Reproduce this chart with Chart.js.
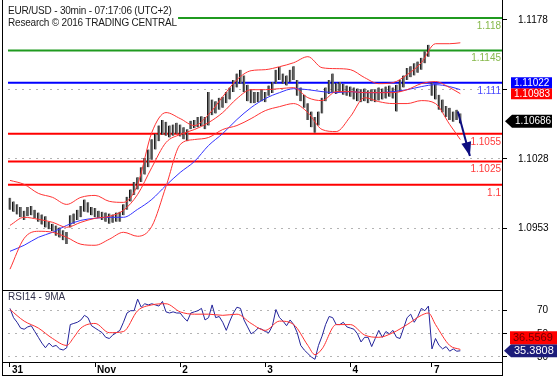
<!DOCTYPE html>
<html>
<head>
<meta charset="utf-8">
<script src="https://cdn.jsdelivr.net/npm/chart.js@4.4.1/dist/chart.umd.min.js"></script>
<style>
  html, body { margin:0; padding:0; background:#fff; }
  #wrap { position:relative; width:558px; height:379px; background:#fff; overflow:hidden; font-family:"Liberation Sans", Arial, sans-serif; }
  canvas { position:absolute; left:0; }
  .ln { position:absolute; background:#000; }
  .txt { position:absolute; white-space:nowrap; font-size:10px; line-height:12px; }
</style>
</head>
<body>
<div id="wrap">
  <canvas id="main" width="558" height="290" style="top:0;width:558px;height:290px"></canvas>
  <canvas id="rsi" width="558" height="89" style="top:290px;width:558px;height:89px"></canvas>
  <div class="ln" style="left:2px;top:0;width:1px;height:376px"></div>
  <div class="ln" style="left:502px;top:0;width:1px;height:376px"></div>
  <div class="ln" style="left:2px;top:375px;width:501px;height:1px"></div>
  <div class="ln" style="left:2px;top:290px;width:501px;height:1px"></div>
  <div class="ln" style="left:2px;top:362px;width:501px;height:1px"></div>
  <div class="txt" style="left:8px;top:5px;color:#1a1a1a;letter-spacing:-0.2px">EUR/USD - 30min - 07:17:06 (UTC+2)</div>
  <div class="txt" style="left:8px;top:17px;color:#1a1a1a;letter-spacing:-0.2px">Research © 2016 TRADING CENTRAL</div>
  <div class="txt" style="left:8px;top:291px;color:#33334d">RSI14 - 9MA</div>
</div>
<script>
// ---------------- DATA ----------------
// hourly bars (index = hours since 31 Oct 00:00)
const barHighs = [1.0986,1.0982,1.0979,1.0976,1.0972,1.0976,1.0977,1.0973,1.0970,1.0968,
1.0966,1.0960,1.0958,1.0956,1.0954,1.0951,1.0949,1.0967,1.0969,1.0973,
1.0977,1.0984,1.0981,1.0976,1.0975,1.0972,1.0971,1.0970,1.0969,1.0968,
1.0970,1.0971,1.0979,1.0987,1.0995,1.1003,1.1008,1.1019,1.1029,1.1038,
1.1049,1.1055,1.1064,1.1070,1.1068,1.1064,1.1065,1.1067,1.1065,1.1062,
1.1060,1.1069,1.1070,1.1073,1.1074,1.1073,1.1100,1.1092,1.1090,1.1094,
1.1095,1.1100,1.1105,1.1113,1.1120,1.1124,1.1118,1.1108,1.1103,1.1100,
1.1100,1.1103,1.1100,1.1107,1.1111,1.1124,1.1127,1.1120,1.1118,1.1124,
1.1128,1.1113,1.1105,1.1097,1.1088,1.1079,1.1073,1.1079,1.1094,1.1105,
1.1113,1.1120,1.1110,1.1111,1.1109,1.1107,1.1106,1.1105,1.1104,1.1103,
1.1104,1.1102,1.1103,1.1103,1.1105,1.1104,1.1106,1.1107,1.1105,1.1108,
1.1113,1.1118,1.1126,1.1128,1.1131,1.1133,1.1137,1.1144,1.1151,1.1110,
1.1109,1.1097,1.1092,1.1085,1.1083,1.1079,1.1081,1.1077];
const barLows = [1.0973,1.0971,1.0968,1.0965,1.0962,1.0966,1.0967,1.0964,1.0960,1.0957,
1.0954,1.0952,1.0950,1.0945,1.0943,1.0940,1.0936,1.0954,1.0958,1.0962,
1.0965,1.0971,1.0970,1.0967,1.0965,1.0964,1.0962,1.0960,1.0958,1.0959,
1.0960,1.0960,1.0967,1.0973,1.0982,1.0989,1.0995,1.1003,1.1011,1.1019,
1.1027,1.1038,1.1047,1.1054,1.1053,1.1051,1.1053,1.1055,1.1052,1.1049,
1.1047,1.1060,1.1061,1.1062,1.1063,1.1060,1.1064,1.1075,1.1077,1.1081,
1.1083,1.1088,1.1092,1.1100,1.1105,1.1109,1.1100,1.1090,1.1088,1.1088,
1.1089,1.1090,1.1089,1.1096,1.1099,1.1109,1.1113,1.1109,1.1107,1.1111,
1.1113,1.1096,1.1090,1.1083,1.1070,1.1062,1.1056,1.1064,1.1077,1.1090,
1.1098,1.1100,1.1098,1.1100,1.1097,1.1096,1.1095,1.1092,1.1090,1.1089,
1.1090,1.1088,1.1090,1.1089,1.1091,1.1092,1.1093,1.1095,1.1093,1.1079,
1.1100,1.1105,1.1113,1.1116,1.1118,1.1121,1.1124,1.1131,1.1138,1.1096,
1.1092,1.1081,1.1078,1.1073,1.1070,1.1068,1.1070,1.1066];

const bandHours = [0,4,8,12,16,20,24,28,32,36,40,44,48,52,56,60,64,68,72,76,80,84,88,92,96,100,104,108,112,116,120,124,127];
const bbUpper = [1.10047,1.10004,1.09907,1.09864,1.09788,1.09864,1.09885,1.09821,1.09810,1.10004,1.10564,1.10779,1.10714,1.10639,1.10757,1.10951,1.11134,1.11231,1.11242,1.11274,1.11317,1.11382,1.11263,1.11253,1.11242,1.11156,1.11091,1.11102,1.11188,1.11317,1.11522,1.11522,1.11532];
const bbMiddle = [1.09562,1.09649,1.09627,1.09595,1.09541,1.09595,1.09638,1.09659,1.09724,1.09896,1.10187,1.10456,1.10542,1.10596,1.10671,1.10779,1.10930,1.11026,1.11026,1.11037,1.11048,1.10940,1.10908,1.11005,1.11005,1.10994,1.10994,1.10994,1.11026,1.11091,1.11113,1.11048,1.10983];
const bbLower = [1.09089,1.09422,1.09498,1.09487,1.09433,1.09358,1.09347,1.09412,1.09487,1.09444,1.09552,1.09982,1.10434,1.10488,1.10510,1.10596,1.10639,1.10714,1.10800,1.10843,1.10876,1.10779,1.10596,1.10574,1.10736,1.10940,1.10897,1.10876,1.10876,1.10908,1.10876,1.10650,1.10488];
const maBlue = [1.09282,1.09347,1.09433,1.09487,1.09562,1.09616,1.09638,1.09649,1.09649,1.09735,1.09842,1.09993,1.10133,1.10251,1.10424,1.10553,1.10704,1.10833,1.10930,1.10994,1.11037,1.11026,1.11005,1.10994,1.11005,1.10994,1.10994,1.11005,1.11026,1.11059,1.11080,1.11059,1.11026];

const rsiValues = [72,64,60,55,54,56,57,52,47,42,38,42,39,40,37,36,38,58,59,60,
62,66,64,57,55,53,51,47,46,49,51,53,60,68,70,70,80,73,76,75,
76,75,74,78,69,68,69,68,68,64,61,68,69,70,72,62,64,75,64,65,
60,53,61,68,73,72,62,56,50,52,55,54,52,51,57,71,64,61,57,62,
58,51,40,36,33,30,28,40,48,58,65,64,58,58,60,56,55,54,50,43,
47,47,39,46,53,47,52,50,53,47,46,55,64,67,60,65,72,70,74,37,
46,40,37,39,35,37,35,35.38];
const rsiMaHours = [0,4,8,12,16,18,20,24,28,32,36,40,44,48,52,56,60,64,68,72,76,80,84,86,88,92,96,100,104,108,112,116,118,120,124,127];
const rsiMaValues = [71,61,55,46,40,47,55,59,51,52,70,75,76,69,67,67,66,67,59,53,61,58,40,32,37,58,58,49,47,51,58,66,68,58,40,36.56];

const dayTickHours = [0,24,48,72,96,119];
const dayLabels = ['31','Nov','2','3','4','7'];
const priceTicks = [1.1178,1.1103,1.1028,1.0953];
const rsiTicks = [70,50,30];

const levelValues = [1.118,1.1145,1.111,1.1055,1.1025,1.1];
const levelLabels = ['1.118','1.1145','1.111','1.1055','1.1025','1.1'];
const levelStartHours = [47.4,null,null,null,null,null];

const arrowFrom = {x:126.3, y:1.1079};
const arrowTo = {x:129.7, y:1.1031};

const lastClose = 1.10686, lastMa = 1.11022, lastMid = 1.10983;
const lastRsi = 35.3808, lastRsiMa = 36.5569;

// axis ranges (in hours / price / rsi units)
const xMin = -0.56, xMax = 138.75;
const priceMin = 1.088643, priceMax = 1.119937;
const rsiMin = 25.68, rsiMax = 87.02;

// ---------------- STYLES ----------------
const levelLineColors = ['#1f9a1f','#1f9a1f','#0000ff','#ff0000','#ff0000','#ff0000'];
const levelTextColors = ['#86b84a','#86b84a','#4a4aff','#ff3a3a','#ff3a3a','#ff3a3a'];
const FONT = '"Liberation Sans", Arial, sans-serif';

Chart.defaults.font.family = FONT;
Chart.defaults.animation = false;

const pts = (xs, ys) => xs.map((x,i)=>({x, y: ys[i]}));

const levelDatasets = levelValues.map((v,i)=>({
  type:'line',
  data:[{x: levelStartHours[i] ?? xMin, y:v},{x:xMax, y:v}],
  borderColor: levelLineColors[i], borderWidth:2, pointRadius:0, order:10
}));

const lineStyle = (c)=>({type:'line', borderColor:c, borderWidth:1, pointRadius:0, tension:0.4, cubicInterpolationMode:'monotone', order:2});

function stackTags(chart, tags, h) {
  const y = chart.scales.y;
  const items = tags.map(t => Object.assign({}, t, {c: y.getPixelForValue(t.value)}));
  items.sort((a,b)=> b.c - a.c);
  for (let i=1;i<items.length;i++) {
    if (items[i].c > items[i-1].c - h) items[i].c = items[i-1].c - h;
  }
  return items;
}
function drawTag(ctx, t, h, font) {
  ctx.fillStyle = t.fill;
  ctx.beginPath();
  if (t.tip != null) {
    ctx.moveTo(t.tip, t.c);
    ctx.lineTo(t.left, t.c - h/2);
    ctx.lineTo(t.right, t.c - h/2);
    ctx.lineTo(t.right, t.c + h/2);
    ctx.lineTo(t.left, t.c + h/2);
    ctx.closePath();
  } else {
    ctx.rect(t.left, t.c - h/2, t.right - t.left, h);
  }
  ctx.fill();
  ctx.fillStyle = t.textColor;
  ctx.font = font;
  ctx.textAlign = 'left';
  ctx.textBaseline = 'middle';
  ctx.fillText(t.text, t.left + 3, t.c + 0.5);
}

const mainPlugin = {
  id:'mainDeco',
  afterDatasetsDraw(chart) {
    const {ctx, chartArea, scales:{y}} = chart;
    ctx.save();
    ctx.font = '10px ' + FONT;
    ctx.textAlign = 'right';
    ctx.textBaseline = 'top';
    levelValues.forEach((v,i)=>{
      ctx.fillStyle = levelTextColors[i];
      ctx.fillText(levelLabels[i], chartArea.right - 1, y.getPixelForValue(v) + 3);
    });
    const meta = chart.getDatasetMeta(chart.data.datasets.length - 1);
    const p0 = meta.data[0], p1 = meta.data[1];
    const ang = Math.atan2(p1.y - p0.y, p1.x - p0.x);
    const L = 14, W = 5;
    ctx.fillStyle = '#0d0d80';
    ctx.beginPath();
    ctx.moveTo(p1.x, p1.y);
    ctx.lineTo(p1.x - L*Math.cos(ang) + W*Math.sin(ang), p1.y - L*Math.sin(ang) - W*Math.cos(ang));
    ctx.lineTo(p1.x - L*Math.cos(ang) - W*Math.sin(ang), p1.y - L*Math.sin(ang) + W*Math.cos(ang));
    ctx.closePath();
    ctx.fill();
    ctx.restore();
  },
  afterDraw(chart) {
    const {ctx, chartArea} = chart;
    const R = chartArea.right;
    ctx.save();
    const grp = stackTags(chart, [
      {value:lastMa, text:lastMa.toFixed(5), fill:'#0000ff', textColor:'#fff', left:R+9, right:R+50},
      {value:lastMid, text:lastMid.toFixed(5), fill:'#ff0000', textColor:'#fff', left:R+9, right:R+50}
    ], 11);
    grp.forEach(t=>drawTag(ctx, t, 11, '10px ' + FONT));
    const close = stackTags(chart, [{value:lastClose, text:lastClose.toFixed(5), fill:'#000', textColor:'#fff', tip:R+3, left:R+10, right:R+50}], 13);
    close.forEach(t=>drawTag(ctx, t, 13, '10px ' + FONT));
    ctx.restore();
  }
};

new Chart(document.getElementById('main'), {
  type:'bar',
  data:{ datasets:[
    ...levelDatasets,
    { type:'bar', data: barHighs.map((hi,i)=>({x:i, y:[barLows[i], hi]})),
      backgroundColor:'#6a6a6a', borderColor:'#111', borderWidth:{left:1, right:0, top:0, bottom:0}, borderSkipped:false,
      barThickness:2.4, order:5 },
    Object.assign({data: pts(bandHours, bbUpper)}, lineStyle('#ff3333')),
    Object.assign({data: pts(bandHours, bbMiddle)}, lineStyle('#ff3333')),
    Object.assign({data: pts(bandHours, bbLower)}, lineStyle('#ff3333')),
    Object.assign({data: pts(bandHours, maBlue)}, lineStyle('#3333ff')),
    { type:'line', data:[arrowFrom, arrowTo], borderColor:'#0d0d80', borderWidth:2, pointRadius:0, order:0 }
  ]},
  options:{
    responsive:false, devicePixelRatio:1, animation:false, events:[],
    layout:{padding:{left:8, top:0, right:0, bottom:0}},
    plugins:{legend:{display:false}, tooltip:{enabled:false}},
    scales:{
      x:{type:'linear', min:xMin, max:xMax, display:false, offset:false, grid:{offset:false}},
      y:{type:'linear', position:'right', min:priceMin, max:priceMax, beginAtZero:false,
        afterBuildTicks:s=>{ s.ticks = priceTicks.map(v=>({value:v})); },
        afterFit:s=>{ s.width = 56; s.paddingTop = 0; s.paddingBottom = 0; },
        ticks:{padding:11, color:'#000', font:{size:10}, autoSkip:false, callback:v=>Number(v).toFixed(4)},
        grid:{color:(c)=> c.index === 0 ? 'rgba(0,0,0,0)' : '#b4b4b4', tickColor:'#000', tickLength:5, lineWidth:1},
        border:{display:false, dash:[2,5]}
      }
    }
  },
  plugins:[mainPlugin]
});

const rsiPlugin = {
  id:'rsiTags',
  afterDraw(chart) {
    const {ctx, chartArea} = chart;
    const R = chartArea.right;
    ctx.save();
    const tags = stackTags(chart, [
      {value:lastRsi, text:lastRsi.toFixed(4), fill:'#1c1c7a', textColor:'#fff', tip:R+2, left:R+9, right:R+55},
      {value:lastRsiMa, text:lastRsiMa.toFixed(4), fill:'#ff0000', textColor:'#6a0000', left:R+8, right:R+55}
    ], 13);
    tags.forEach(t=>drawTag(ctx, t, 13, '11px ' + FONT));
    ctx.restore();
  }
};

new Chart(document.getElementById('rsi'), {
  type:'line',
  data:{ datasets:[
    {data: rsiValues.map((v,i)=>({x:i, y:v})), borderColor:'#23239a', borderWidth:1, pointRadius:0, tension:0, order:2},
    {data: pts(rsiMaHours, rsiMaValues), borderColor:'#ff3030', borderWidth:1, pointRadius:0, tension:0.4, cubicInterpolationMode:'monotone', order:1}
  ]},
  options:{
    responsive:false, devicePixelRatio:1, animation:false, events:[],
    layout:{padding:{left:8, top:1, right:0, bottom:0}},
    plugins:{legend:{display:false}, tooltip:{enabled:false}},
    scales:{
      x:{type:'linear', position:'bottom', min:xMin, max:xMax,
        afterBuildTicks:s=>{ s.ticks = dayTickHours.map(v=>({value:v})); },
        afterFit:s=>{ s.height = 17; s.paddingLeft = 0; s.paddingRight = 0; },
        ticks:{autoSkip:false, maxRotation:0, minRotation:0, align:'start', labelOffset:2, padding:-3,
          font:{size:10, weight:'bold'}, color:'#000', callback:(v,i)=>dayLabels[i]},
        grid:{drawOnChartArea:false, tickLength:5, tickColor:'#000'},
        border:{display:false}
      },
      y:{type:'linear', position:'right', min:rsiMin, max:rsiMax,
        afterBuildTicks:s=>{ s.ticks = rsiTicks.map(v=>({value:v})); },
        afterFit:s=>{ s.width = 56; s.paddingTop = 0; s.paddingBottom = 0; },
        ticks:{padding:30, color:'#000', font:{size:10}, autoSkip:false, callback:v=>String(v)},
        grid:{color:'#b4b4b4', tickColor:'#000', tickLength:5, lineWidth:1},
        border:{display:false, dash:[2,5]}
      }
    }
  },
  plugins:[rsiPlugin]
});
</script>
</body>
</html>
